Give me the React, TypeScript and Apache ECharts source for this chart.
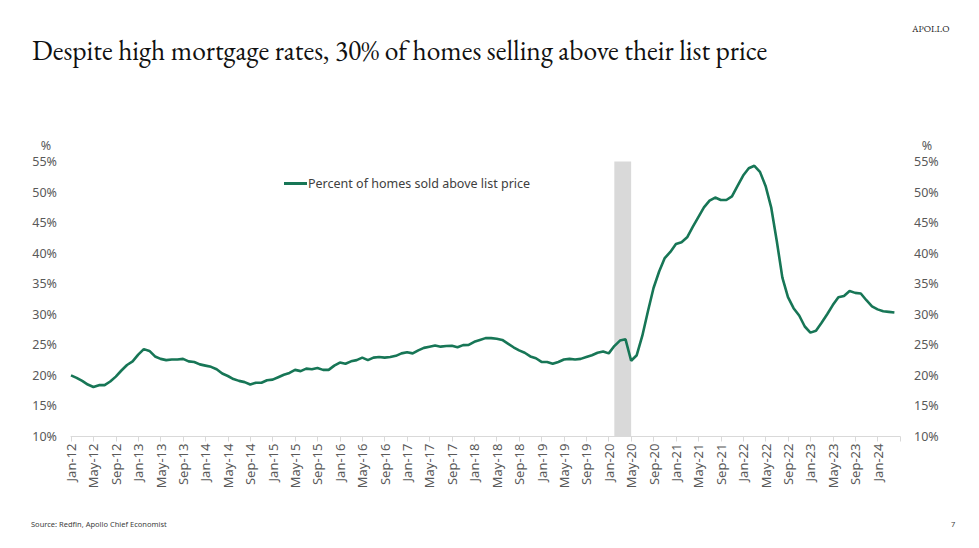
import React, { useEffect, useRef } from "react";
import * as echarts from "echarts";

const years = ["12", "13", "14", "15", "16", "17", "18", "19", "20", "21", "22", "23", "24"];
const monthNames = ["Jan", "Feb", "Mar", "Apr", "May", "Jun", "Jul", "Aug", "Sep", "Oct", "Nov", "Dec"];
const lastMonthsOf2024 = 5; // Jan-24 .. May-24

const categories: string[] = [];
years.forEach((y) => {
  const n = y === "24" ? lastMonthsOf2024 : 12;
  for (let m = 0; m < n; m++) categories.push(`${monthNames[m]}-${y}`);
});

// Percent of homes sold above list price (%), Jan-12 .. Apr-24
const pct2012 = [20.0, 19.6, 19.1, 18.5, 18.1, 18.4, 18.4, 19.0, 19.8, 20.8, 21.7, 22.3];
const pct2013 = [23.4, 24.3, 24.0, 23.1, 22.7, 22.5, 22.6, 22.6, 22.7, 22.3, 22.2, 21.8];
const pct2014 = [21.6, 21.4, 21.0, 20.3, 19.9, 19.4, 19.1, 18.9, 18.5, 18.8, 18.8, 19.2];
const pct2015 = [19.3, 19.7, 20.1, 20.4, 20.9, 20.7, 21.1, 21.0, 21.2, 20.9, 20.9, 21.6];
const pct2016 = [22.1, 21.9, 22.3, 22.5, 22.9, 22.5, 22.9, 23.0, 22.9, 23.0, 23.2, 23.6];
const pct2017 = [23.8, 23.6, 24.1, 24.5, 24.7, 24.9, 24.7, 24.8, 24.85, 24.6, 24.95, 25.0];
const pct2018 = [25.5, 25.8, 26.1, 26.1, 26.0, 25.8, 25.2, 24.6, 24.1, 23.7, 23.1, 22.8];
const pct2019 = [22.2, 22.2, 21.9, 22.2, 22.6, 22.7, 22.6, 22.7, 23.0, 23.3, 23.7, 23.9];
const pct2020 = [23.6, 24.8, 25.7, 25.9, 22.4, 23.3, 26.5, 30.5, 34.3, 37.0, 39.2, 40.2];
const pct2021 = [41.5, 41.8, 42.6, 44.3, 45.9, 47.5, 48.6, 49.1, 48.7, 48.7, 49.3, 51.0];
const pct2022 = [52.7, 53.9, 54.3, 53.3, 51.0, 47.5, 42.0, 36.0, 32.8, 31.0, 29.8, 28.0];
const pct2023 = [27.0, 27.3, 28.6, 30.0, 31.5, 32.8, 33.0, 33.8, 33.5, 33.4, 32.3, 31.3];
const pct2024 = [30.8, 30.5, 30.4, 30.3];

const pctAboveList: (number | null)[] = [
  ...pct2012, ...pct2013, ...pct2014, ...pct2015, ...pct2016, ...pct2017, ...pct2018,
  ...pct2019, ...pct2020, ...pct2021, ...pct2022, ...pct2023, ...pct2024,
];
while (pctAboveList.length < categories.length) pctAboveList.push(null);

const recessionStart = "Feb-20";
const recessionEnd = "May-20";

const yMin = 10;
const yMax = 55;
const yStep = 5;

const TITLE = "Despite high mortgage rates, 30% of homes selling above their list price";
const SERIES_NAME = "Percent of homes sold above list price";
const SOURCE = "Source: Redfin, Apollo Chief Economist";

const LINE_COLOR = "#177656";
const LABEL_COLOR = "#595959";
const SANS = "'Segoe UI', 'Noto Sans', sans-serif";
const SERIF = "'EB Garamond', Garamond, 'Liberation Serif', serif";

export default function App() {
  const ref = useRef<HTMLDivElement>(null);

  useEffect(() => {
    if (!ref.current) return;
    const chart = echarts.init(ref.current, undefined, { renderer: "svg" });
    const lastLabelIdx = categories.length - 1;

    chart.setOption({
      animation: false,
      backgroundColor: "#ffffff",
      grid: { left: 71, right: 79, top: 161.5, bottom: 111.5, containLabel: false },
      legend: {
        left: 279,
        top: 172,
        icon: "rect",
        itemWidth: 23,
        itemHeight: 3,
        textStyle: { color: "#404040", fontSize: 12.5, fontFamily: SANS, padding: [0, 0, 0, -4] },
        data: [SERIES_NAME],
      },
      xAxis: {
        type: "category",
        data: categories,
        boundaryGap: false,
        axisLine: { lineStyle: { color: "#d9d9d9", width: 1 } },
        axisTick: {
          interval: (i: number) => i % 4 === 0,
          length: 5,
          lineStyle: { color: "#d9d9d9" },
        },
        axisLabel: {
          interval: (i: number) => i % 4 === 0 && i < lastLabelIdx,
          rotate: 90,
          margin: 7,
          color: LABEL_COLOR,
          fontSize: 13,
          fontFamily: SANS,
        },
        splitLine: { show: false },
      },
      yAxis: [
        {
          type: "value",
          min: yMin,
          max: yMax,
          interval: yStep,
          position: "left",
          axisLine: { show: false },
          axisTick: { show: false },
          splitLine: { show: false },
          axisLabel: { formatter: "{value}%", color: LABEL_COLOR, fontSize: 12.5, fontFamily: SANS, margin: 14 },
        },
        {
          type: "value",
          min: yMin,
          max: yMax,
          interval: yStep,
          position: "right",
          axisLine: { show: false },
          axisTick: { show: false },
          splitLine: { show: false },
          axisLabel: { formatter: "{value}%", color: LABEL_COLOR, fontSize: 12.5, fontFamily: SANS, margin: 14 },
        },
      ],
      series: [
        {
          name: SERIES_NAME,
          type: "line",
          data: pctAboveList,
          yAxisIndex: 0,
          showSymbol: false,
          symbol: "none",
          lineStyle: { color: LINE_COLOR, width: 2.6 },
          itemStyle: { color: LINE_COLOR },
          markArea: {
            silent: true,
            itemStyle: { color: "#d9d9d9" },
            data: [[{ xAxis: recessionStart }, { xAxis: recessionEnd }]],
          },
          z: 3,
        },
      ],
      graphic: [
        {
          type: "text",
          left: 32,
          top: 36,
          style: { text: TITLE, fill: "#111111", font: `27.5px ${SERIF}` },
        },
        {
          type: "text",
          left: 912,
          top: 23,
          style: { text: "APOLLO", fill: "#222222", font: `9.5px ${SERIF}` },
        },
        {
          type: "text",
          x: 46,
          y: 145,
          style: { text: "%", fill: LABEL_COLOR, font: `12.5px ${SANS}`, align: "center", verticalAlign: "middle" },
        },
        {
          type: "text",
          x: 927,
          y: 145,
          style: { text: "%", fill: LABEL_COLOR, font: `12.5px ${SANS}`, align: "center", verticalAlign: "middle" },
        },
        {
          type: "text",
          left: 31,
          top: 520,
          style: { text: SOURCE, fill: "#404040", font: `7.5px ${SANS}` },
        },
        {
          type: "text",
          left: 951,
          top: 520,
          style: { text: "7", fill: "#404040", font: `7.5px ${SANS}` },
        },
      ],
    });

    return () => chart.dispose();
  }, []);

  return (
    <div
      ref={ref}
      style={{ position: "fixed", left: 0, top: 0, width: 979, height: 548, background: "#fff" }}
    />
  );
}
